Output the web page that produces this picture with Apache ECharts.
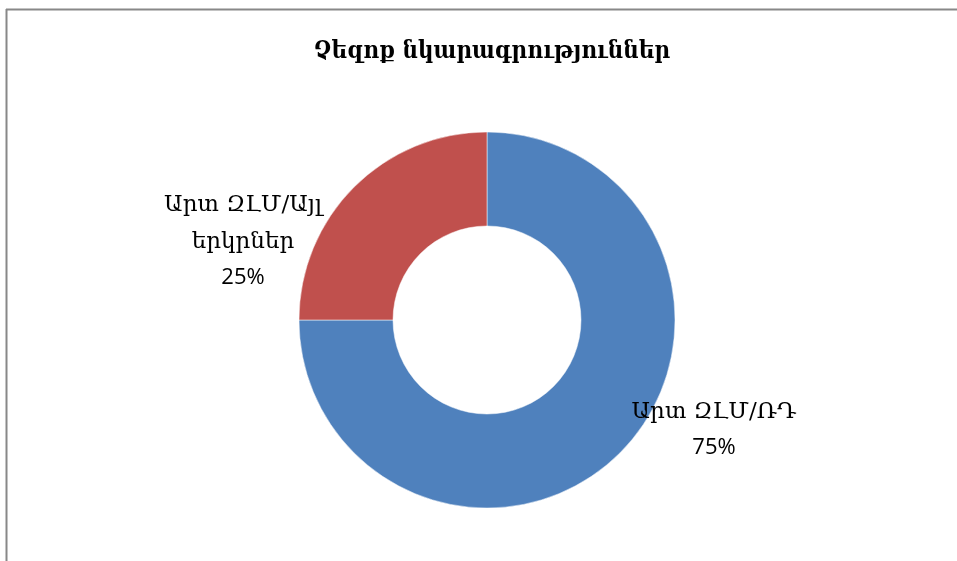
<!DOCTYPE html>
<html>
<head>
<meta charset="utf-8">
<script src="https://cdn.jsdelivr.net/npm/echarts@6/dist/echarts.min.js"></script>
<style>
  html, body { margin: 0; padding: 0; background: #fff; }
  #chart { width: 957px; height: 561px; }
</style>
</head>
<body>
<div id="chart"></div>
<script>
const titleText = 'Չեզոք նկարագրություններ';
const categories = ['Արտ ԶԼՄ/ՌԴ', 'Արտ ԶԼՄ/Այլ\nերկրներ'];
const values = [75, 25];
const colors = ['#4F81BD', '#C0504D'];

// where each label block sits (centre x, top y)
const labelSpots = [[714, 394], [243, 187]];

const chart = echarts.init(document.getElementById('chart'));

const option = {
  backgroundColor: '#fff',
  animation: false,
  title: {
    text: titleText,
    left: 487,
    top: 35,
    textAlign: 'center',
    textStyle: {
      fontFamily: '"DejaVu Serif Condensed", "DejaVu Serif"',
      fontWeight: 'bold',
      fontSize: 24,
      color: '#000'
    }
  },
  graphic: [
    { type: 'line', shape: { x1: 6, y1: 9.5, x2: 957, y2: 9.5 }, style: { stroke: '#888', lineWidth: 2 } },
    { type: 'line', shape: { x1: 6.5, y1: 9, x2: 6.5, y2: 561 }, style: { stroke: '#888', lineWidth: 2 } }
  ],
  series: [{
    type: 'pie',
    center: [487, 320],
    radius: [94, 188],
    startAngle: 90,
    clockwise: true,
    data: categories.map((name, i) => ({
      name: name,
      value: values[i],
      itemStyle: { color: colors[i] }
    })),
    itemStyle: { borderColor: '#fff', borderWidth: 0.5 },
    label: {
      show: true,
      fontSize: 22,
      color: '#000',
      formatter: function (p) {
        return '{nm|' + p.name.split('\n').join('}\n{nm|') + '}\n{pc|' + p.percent + '%}';
      },
      rich: {
        nm: { fontFamily: 'DejaVu Serif', fontSize: 23, color: '#000', lineHeight: 37, align: 'center' },
        pc: { fontFamily: 'Open Sans', fontSize: 22, color: '#000', lineHeight: 34, align: 'center' }
      }
    },
    labelLine: { show: false },
    labelLayout: function (params) {
      const s = labelSpots[params.dataIndex];
      return { x: s[0], y: s[1], align: 'center', verticalAlign: 'top' };
    }
  }]
};

chart.setOption(option);
</script>
</body>
</html>
